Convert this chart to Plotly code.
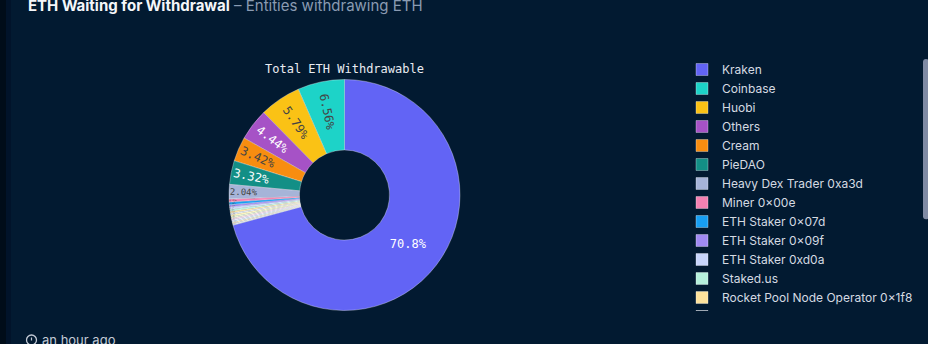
import plotly.graph_objects as go

# Entities holding ETH that is waiting to be withdrawn (share of total, %)
entities = [
    "Kraken", "Coinbase", "Huobi", "Others", "Cream", "PieDAO",
    "Heavy Dex Trader 0xa3d", "Miner 0×00e", "ETH Staker 0×07d",
    "ETH Staker 0×09f", "ETH Staker 0xd0a", "Staked.us",
    "Rocket Pool Node Operator 0×1f8", "ETH Staker 0×3b2",
    "ETH Staker 0×c41", "Solo Validator 0×8e7", "ETH Staker 0×5a9",
    "Rocket Pool Node Operator 0×e06", "ETH Staker 0×71c",
    "Solo Validator 0×2df", "ETH Staker 0×b90",
]
share = [
    70.8, 6.56, 5.79, 4.44, 3.42, 3.32,
    2.04, 0.42, 0.38,
    0.32, 0.30, 0.28,
    0.26, 0.25,
    0.23, 0.22, 0.21,
    0.20, 0.19,
    0.19, 0.18,
]
palette = [
    "#6264f5", "#1dd3c8", "#fac215", "#a652c6", "#f88d10", "#138f86",
    "#a6b4d8", "#f481b2", "#189ff3", "#a08af2", "#c8d5fb", "#b6f0dc",
    "#fde29c", "#dfe5ee", "#fef3b0", "#e4f5c8", "#f6d6de", "#ebe0fb",
    "#cfe9f7", "#fbe7b8", "#d8dee8",
]

BG = "#021a31"
W, H = 928, 344
ML, MR, MT, MB = 0, 0, 55, 33
PH = H - MT - MB


def px_x(p):
    return (p - ML) / (W - ML - MR)


def px_y(p):
    return (H - MB - p) / PH


cx, cy, rad = 344.5, 195.0, 115.5

fig = go.Figure(
    go.Pie(
        labels=entities,
        values=share,
        sort=False,
        direction="counterclockwise",
        rotation=0,
        hole=0.39,
        marker=dict(colors=palette, line=dict(color="rgba(255,255,255,0.55)", width=0.6)),
        textinfo="percent",
        textposition="inside",
        textfont=dict(family="DejaVu Sans Mono", size=12),
        domain=dict(
            x=[px_x(cx - rad), px_x(cx + rad)],
            y=[px_y(cy + rad), px_y(cy - rad)],
        ),
        hoverinfo="label+percent",
    )
)

# darker card edge on the left
shapes = [
    dict(type="rect", xref="paper", yref="paper", x0=px_x(0), x1=px_x(6),
         y0=px_y(H + 5), y1=px_y(-5), fillcolor="#000c19", line_width=0, layer="below"),
    dict(type="rect", xref="paper", yref="paper", x0=px_x(6), x1=px_x(11),
         y0=px_y(H + 5), y1=px_y(-5), fillcolor="#01132a", line_width=0, layer="below"),
    # history icon next to the timestamp
    dict(type="circle", xref="paper", yref="paper", x0=px_x(26.5), x1=px_x(36.5),
         y0=px_y(345), y1=px_y(335), line=dict(color="#c3cad6", width=1.3)),
    dict(type="line", xref="paper", yref="paper", x0=px_x(31.5), x1=px_x(31.5),
         y0=px_y(337.5), y1=px_y(340.5), line=dict(color="#c3cad6", width=1.2)),
]

annotations = [
    dict(text="<b>ETH Waiting for Withdrawal</b> <span style='color:#8a9bb2'>– Entities withdrawing ETH</span>",
         xref="paper", yref="paper", x=px_x(26), y=px_y(5.5), xanchor="left", yanchor="middle",
         showarrow=False, font=dict(family="Inter", size=15, color="#f4f6f9")),
    dict(text="Total ETH Withdrawable", xref="paper", yref="paper",
         x=px_x(cx), y=px_y(69), xanchor="center", yanchor="middle", showarrow=False,
         font=dict(family="DejaVu Sans Mono", size=12, color="#e9ecf2")),
    dict(text="an hour ago", xref="paper", yref="paper", x=px_x(40), y=px_y(340),
         xanchor="left", yanchor="middle", showarrow=False,
         font=dict(family="Inter", size=13, color="#c3cad6")),
]

fig.update_layout(
    width=W, height=H,
    margin=dict(l=ML, r=MR, t=MT, b=MB),
    paper_bgcolor=BG, plot_bgcolor=BG,
    showlegend=True,
    legend=dict(
        x=px_x(682), y=1, xanchor="left", yanchor="top",
        font=dict(family="Inter", size=12, color="#d5dae2"),
        bgcolor="rgba(0,0,0,0)",
    ),
    shapes=shapes,
    annotations=annotations,
)

fig.write_html("out.html")
